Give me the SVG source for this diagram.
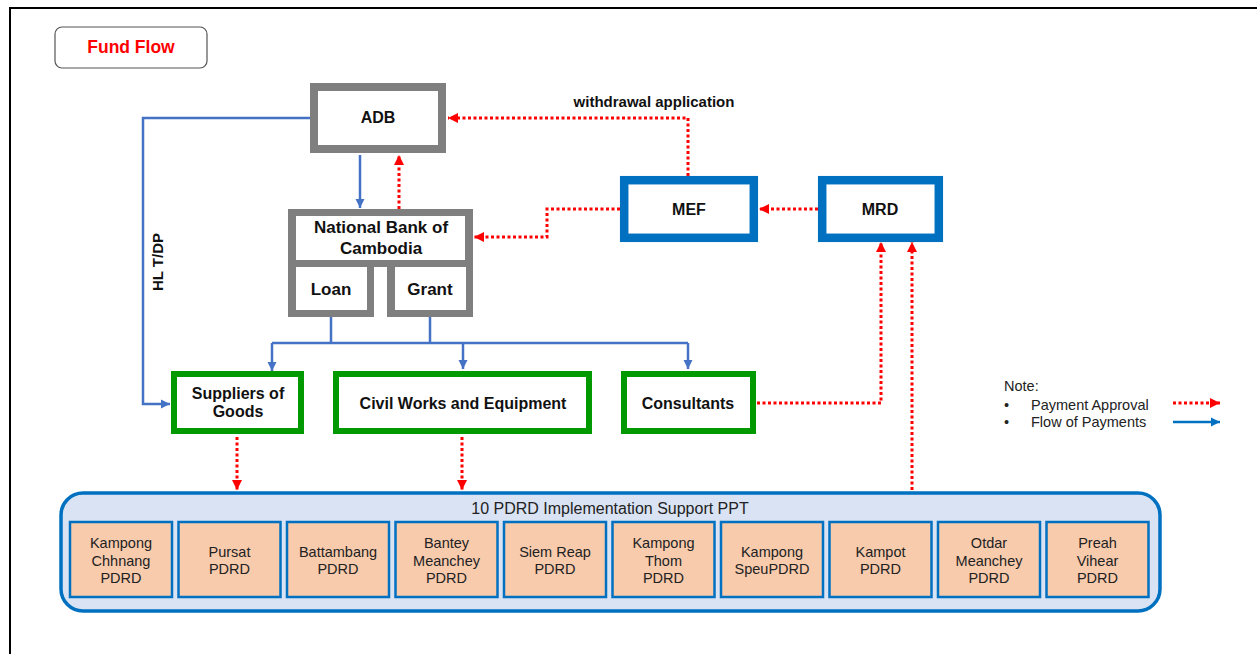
<svg xmlns="http://www.w3.org/2000/svg" width="1257" height="654" viewBox="0 0 1257 654">
<defs>
<style>
.b{font-family:"Liberation Sans",Arial,sans-serif;font-weight:bold;fill:#111;text-anchor:middle}
.r{font-family:"Liberation Sans",Arial,sans-serif;fill:#222;text-anchor:middle;font-size:14.5px}
.gray{fill:none;stroke:#7F7F7F;stroke-width:8}
.blue{fill:#fff;stroke:#0070C0;stroke-width:8.5}
.green{fill:#fff;stroke:#009900;stroke-width:6}
.pd{fill:#F8CBAD;stroke:#0070C0;stroke-width:2.5}
.fl{fill:none;stroke:#4472C4;stroke-width:2.5}
.ap{fill:none;stroke:#FF0000;stroke-width:3;stroke-dasharray:3 2.5}
</style>
<marker id="ab" markerUnits="userSpaceOnUse" markerWidth="10" markerHeight="10" refX="9" refY="5" orient="auto"><path d="M0,0.5 L9,5 L0,9.5 z" fill="#4472C4"/></marker>
<marker id="ar" markerUnits="userSpaceOnUse" markerWidth="11" markerHeight="11" refX="10" refY="5.5" orient="auto"><path d="M0,0.5 L10,5.5 L0,10.5 z" fill="#FF0000"/></marker>
<marker id="al" markerUnits="userSpaceOnUse" markerWidth="10" markerHeight="10" refX="9" refY="5" orient="auto"><path d="M0,0.5 L9,5 L0,9.5 z" fill="#0070C0"/></marker>
</defs>
<rect x="0" y="0" width="1257" height="654" fill="#fff"/>
<rect x="10" y="8" width="1270" height="700" fill="none" stroke="#000" stroke-width="2"/>

<g id="title">
<rect x="55" y="27" width="152" height="41" rx="7" fill="#fff" stroke="#555" stroke-width="1.2"/>
<text x="131" y="53" class="b" style="fill:#FF0000;font-size:17.5px">Fund Flow</text>
</g>

<g id="connectors">
<path class="fl" d="M310,118 H143 V404 H170" marker-end="url(#ab)"/>
<path class="fl" d="M360,155 V208" marker-end="url(#ab)"/>
<path class="fl" d="M331,317 V343 M430,317 V343 M272,343 H688"/>
<path class="fl" d="M272,343 V371" marker-end="url(#ab)"/>
<path class="fl" d="M463,343 V369" marker-end="url(#ab)"/>
<path class="fl" d="M688,343 V369" marker-end="url(#ab)"/>
<path class="ap" d="M399,209 V155" marker-end="url(#ar)"/>
<path class="ap" d="M688,176 V118 H448" marker-end="url(#ar)"/>
<path class="ap" d="M620,209 H547 V237 H474" marker-end="url(#ar)"/>
<path class="ap" d="M818,209 H759" marker-end="url(#ar)"/>
<path class="ap" d="M757,403 H881 V242" marker-end="url(#ar)"/>
<path class="ap" d="M912,490 V242" marker-end="url(#ar)"/>
<path class="ap" d="M237,437 V490" marker-end="url(#ar)"/>
<path class="ap" d="M462,437 V490" marker-end="url(#ar)"/>
<text x="654" y="107" class="b" style="font-size:15px">withdrawal application</text>
<text x="0" y="0" class="b" style="font-size:15px" transform="translate(163,262) rotate(-90)">HL T/DP</text>
</g>

<g id="adb">
<rect x="314" y="87" width="128" height="62" class="gray" fill="#fff"/>
<text x="378" y="123" class="b" style="font-size:16px">ADB</text>
</g>

<g id="nbc">
<rect x="288" y="209" width="185" height="58" fill="#7F7F7F"/>
<rect x="288" y="259" width="86" height="58" fill="#7F7F7F"/>
<rect x="387" y="259" width="86" height="58" fill="#7F7F7F"/>
<rect x="296" y="216" width="169" height="44" fill="#fff"/>
<rect x="296" y="267" width="71" height="43" fill="#fff"/>
<rect x="395" y="267" width="71" height="43" fill="#fff"/>
<text x="381" y="233" class="b" style="font-size:17px">National Bank of</text>
<text x="381" y="254" class="b" style="font-size:17px">Cambodia</text>
<text x="331" y="295" class="b" style="font-size:17px">Loan</text>
<text x="430" y="295" class="b" style="font-size:17px">Grant</text>
</g>

<g id="mef">
<rect x="624.2" y="180.2" width="129.6" height="57.6" class="blue"/>
<text x="689" y="215" class="b" style="font-size:16px">MEF</text>
</g>

<g id="mrd">
<rect x="822.2" y="180.2" width="116.6" height="57.6" class="blue"/>
<text x="880" y="215" class="b" style="font-size:16px">MRD</text>
</g>

<g id="suppliers">
<rect x="174" y="374" width="127" height="57" class="green"/>
<text x="238" y="399" class="b" style="font-size:16px">Suppliers of</text>
<text x="238" y="417" class="b" style="font-size:16px">Goods</text>
</g>

<g id="civil">
<rect x="336" y="374" width="253" height="57" class="green"/>
<text x="463" y="409" class="b" style="font-size:16px">Civil Works and Equipment</text>
</g>

<g id="consultants">
<rect x="624" y="374" width="129" height="57" class="green"/>
<text x="688" y="409" class="b" style="font-size:16px">Consultants</text>
</g>

<g id="pdrd">
<rect x="61" y="493" width="1099" height="118" rx="22" fill="#DAE3F3" stroke="#0070C0" stroke-width="3.5"/>
<text x="610" y="514" class="r" style="font-size:16px">10 PDRD Implementation Support PPT</text>
<g id="p1"><rect x="70" y="522" width="102" height="75" class="pd"/>
<text x="121" y="548" class="r">Kampong</text><text x="121" y="566" class="r">Chhnang</text><text x="121" y="583" class="r">PDRD</text></g>
<g id="p2"><rect x="178.5" y="522" width="102" height="75" class="pd"/>
<text x="229.5" y="557" class="r">Pursat</text><text x="229.5" y="574" class="r">PDRD</text></g>
<g id="p3"><rect x="287" y="522" width="102" height="75" class="pd"/>
<text x="338" y="557" class="r">Battambang</text><text x="338" y="574" class="r">PDRD</text></g>
<g id="p4"><rect x="395.5" y="522" width="102" height="75" class="pd"/>
<text x="446.5" y="548" class="r">Bantey</text><text x="446.5" y="566" class="r">Meanchey</text><text x="446.5" y="583" class="r">PDRD</text></g>
<g id="p5"><rect x="504" y="522" width="102" height="75" class="pd"/>
<text x="555" y="557" class="r">Siem Reap</text><text x="555" y="574" class="r">PDRD</text></g>
<g id="p6"><rect x="612.5" y="522" width="102" height="75" class="pd"/>
<text x="663.5" y="548" class="r">Kampong</text><text x="663.5" y="566" class="r">Thom</text><text x="663.5" y="583" class="r">PDRD</text></g>
<g id="p7"><rect x="721" y="522" width="102" height="75" class="pd"/>
<text x="772" y="557" class="r">Kampong</text><text x="772" y="574" class="r">SpeuPDRD</text></g>
<g id="p8"><rect x="829.5" y="522" width="102" height="75" class="pd"/>
<text x="880.5" y="557" class="r">Kampot</text><text x="880.5" y="574" class="r">PDRD</text></g>
<g id="p9"><rect x="938" y="522" width="102" height="75" class="pd"/>
<text x="989" y="548" class="r">Otdar</text><text x="989" y="566" class="r">Meanchey</text><text x="989" y="583" class="r">PDRD</text></g>
<g id="p10"><rect x="1046.5" y="522" width="102" height="75" class="pd"/>
<text x="1097.5" y="548" class="r">Preah</text><text x="1097.5" y="566" class="r">Vihear</text><text x="1097.5" y="583" class="r">PDRD</text></g>
</g>

<g id="legend">
<text x="1004" y="391" class="r" style="text-anchor:start">Note:</text>
<text x="1004" y="410" class="r" style="text-anchor:start">•</text>
<text x="1004" y="427" class="r" style="text-anchor:start">•</text>
<text x="1031" y="410" class="r" style="text-anchor:start">Payment Approval</text>
<text x="1031" y="427" class="r" style="text-anchor:start">Flow of Payments</text>
<path class="ap" d="M1173,403 H1220" marker-end="url(#ar)"/>
<path d="M1173,422 H1220" fill="none" stroke="#0070C0" stroke-width="2.5" marker-end="url(#al)"/>
</g>
</svg>
